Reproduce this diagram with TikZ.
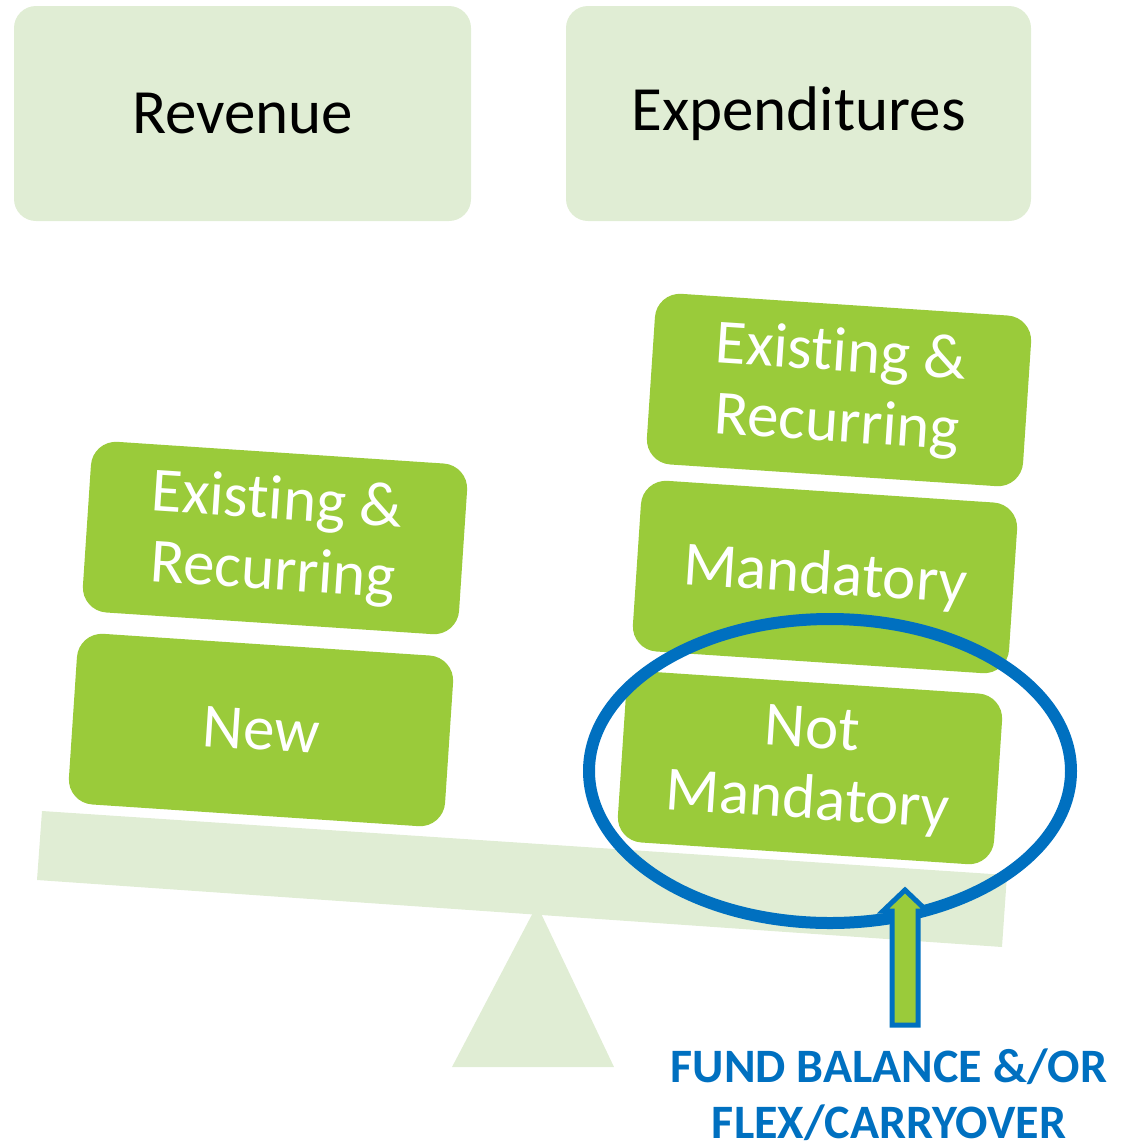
\documentclass[tikz,border=0pt]{standalone}
\usepackage{fontspec}
\setmainfont{Carlito}[Ligatures={NoCommon,NoRare}]
\definecolor{lightg}{HTML}{E0EDD4}
\definecolor{boxg}{HTML}{9ACB3A}
\definecolor{blueo}{HTML}{0070C0}
\newcommand{\exrec}{Exist\kern0pt ing \&\\Recurring}
\begin{document}
\begin{tikzpicture}[x=1pt,y=-1pt,
  topbox/.style={fill=lightg, rounded corners=22pt, minimum width=457pt, minimum height=215pt,
    font=\fontsize{63}{70}\selectfont, text=black, inner sep=0pt},
  tilebox/.style={fill=boxg, rounded corners=25pt, minimum width=377pt, minimum height=171pt,
    rotate=-3.8, font=\fontsize{63}{71}\selectfont, text=white, align=center, inner sep=0pt}]
\useasboundingbox (0,0) rectangle (1121,1144);
% top boxes
\node[topbox] (rev) at (242.5,113.5) {Revenue};
\node[topbox, minimum width=465pt] (exp) at (798.5,113.5) {Expenditures};
% beam and fulcrum
\fill[lightg] (537,905) -- (614,1067) -- (452,1067) -- cycle;
\fill[lightg] (42,811) -- (1007,875) -- (1002,947) -- (37,880) -- cycle;
% tiles
\node[tilebox] (lnew) at (261,730) {New};
\node[tilebox] (lexist) at (275,538) {\exrec};
\node[tilebox] (rexist) at (839,390) {\exrec};
\node[tilebox] (rmand) at (825,577) {Mandatory};
\node[tilebox] (rnot) at (810,768) {Not\\Mandatory};
% ellipse
\coordinate (circ) at (830,771);
\draw[blueo, line width=12pt] (circ) ellipse [x radius=241, y radius=152];
% arrow
\filldraw[fill=boxg, draw=blueo, line width=5pt, line join=miter]
  (905,890) -- (927,911) -- (918,911) -- (918,1025) -- (892,1025) -- (892,911) -- (883,911) -- cycle;
\node[font=\fontsize{48}{56}\selectfont\bfseries, text=blueo, align=center, inner sep=0pt] (fund) at (889,1095)
  {FUND BALANCE \&/OR\\FLEX/CARRYOVER};
\end{tikzpicture}
\end{document}
